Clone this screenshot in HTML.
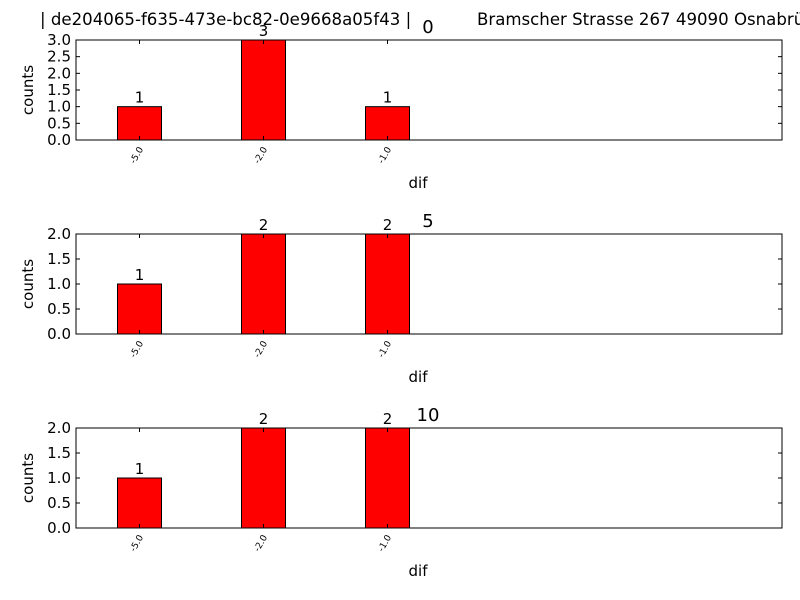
<!DOCTYPE html>
<html><head><meta charset="utf-8"><style>body{margin:0;background:#fff}svg{display:block;font-family:"DejaVu Sans","Liberation Sans",sans-serif}</style></head>
<body>
<svg id="c" width="800" height="600">
<text x="40" y="25" font-size="16.6">| de204065-f635-473e-bc82-0e9668a05f43 |</text>
<text x="477" y="25" font-size="16.6">Bramscher Strasse 267 49090 Osnabrück</text>
</svg>
<script>
const categories = ["-5.0", "-2.0", "-1.0"];
const panelTitles = ["0", "5", "10"];
const seriesA = [1, 3, 1];
const seriesB = [1, 2, 2];
const seriesC = [1, 2, 2];
const yMaxes = [3.0, 2.0, 2.0];
const yStep = [0.5, 0.5, 0.5];
const series = [seriesA, seriesB, seriesC];
const NS = "http://www.w3.org/2000/svg";
const svg = document.getElementById("c");
function mk(tag, attrs, text){const e=document.createElementNS(NS,tag);for(const k in attrs)e.setAttribute(k,attrs[k]);if(text!==undefined)e.textContent=text;svg.appendChild(e);return e;}
const L=76,R=782,H=100,tops=[40,234,428];
const xs=i=>139.5+124*i, bw=44;
series.forEach((vals,p)=>{
  const top=tops[p],bot=top+H,ymax=yMaxes[p];
  const ys=v=>bot-v/ymax*H;
  vals.forEach((v,i)=>{
    const r=mk("rect",{x:xs(i)-bw/2,y:ys(v),width:bw,height:bot-ys(v),fill:"#ff0000",stroke:"#000","stroke-width":1});
    
    
    const t=mk("text",{x:xs(i),y:ys(v)-4,"font-size":15,"text-anchor":"middle"},String(v));
    
    
  });
  const f=mk("rect",{x:L,y:top,width:R-L,height:H,fill:"none",stroke:"#000","stroke-width":1});
  
  
  for(let v=0;v<=ymax+1e-9;v+=yStep[p]){
    const y=ys(v);
    mk("line",{x1:L,x2:L+4,y1:y,y2:y,stroke:"#000"});
    mk("line",{x1:R-4,x2:R,y1:y,y2:y,stroke:"#000"});
    const t=mk("text",{x:L-5,y:y+5,"font-size":15,"text-anchor":"end"},v.toFixed(1));
    
    
  }
  categories.forEach((c,i)=>{
    const x=xs(i);
    mk("line",{x1:x,x2:x,y1:bot,y2:bot-4,stroke:"#000"});
    mk("line",{x1:x,x2:x,y1:top,y2:top+4,stroke:"#000"});
    const t=mk("text",{x:x+4,y:bot+9,"font-size":9,"text-anchor":"end",transform:`rotate(-60 ${x+4} ${bot+9})`},c);
    
    
  });
  const yl=mk("text",{x:33,y:top+H/2,"font-size":15,"text-anchor":"middle",transform:`rotate(-90 33 ${top+H/2})`},"counts");
  
  
  const xl=mk("text",{x:418,y:bot+48,"font-size":15,"text-anchor":"middle"},"dif");
  
  
  const pt=mk("text",{x:428,y:top-7,"font-size":18,"text-anchor":"middle"},panelTitles[p]);
  
  
});
</script>
</body></html>
